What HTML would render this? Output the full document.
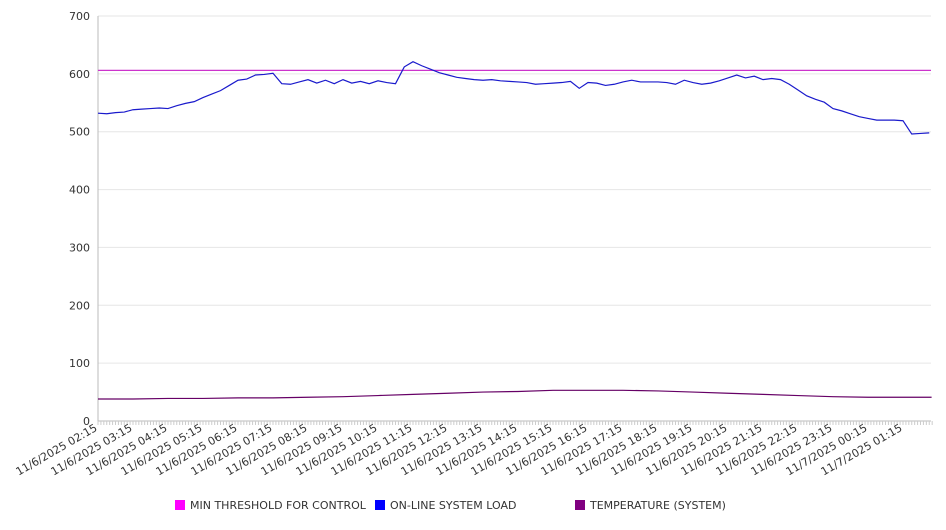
<!DOCTYPE html>
<html><head><meta charset="utf-8"><style>
body{margin:0;background:#fff;font-family:"DejaVu Sans","Liberation Sans",sans-serif}
svg text{font-family:"DejaVu Sans","Liberation Sans",sans-serif;fill:#333}
</style></head><body>
<svg id="chart" width="946" height="526" xmlns="http://www.w3.org/2000/svg"></svg>
<script>
const yTicks=[0,100,200,300,400,500,600,700];
const xLabels=["11/6/2025 02:15","11/6/2025 03:15","11/6/2025 04:15","11/6/2025 05:15","11/6/2025 06:15","11/6/2025 07:15","11/6/2025 08:15","11/6/2025 09:15","11/6/2025 10:15","11/6/2025 11:15","11/6/2025 12:15","11/6/2025 13:15","11/6/2025 14:15","11/6/2025 15:15","11/6/2025 16:15","11/6/2025 17:15","11/6/2025 18:15","11/6/2025 19:15","11/6/2025 20:15","11/6/2025 21:15","11/6/2025 22:15","11/6/2025 23:15","11/7/2025 00:15","11/7/2025 01:15"];
const threshold=606;
// load sampled every 15 minutes from 02:15
const load=[532,531,533,534,538,539,540,541,540,545,549,552,559,565,571,580,589,591,598,599,601,583,582,586,590,584,589,583,590,584,587,583,588,585,583,612,621,614,608,602,598,594,592,590,589,590,588,587,586,585,582,583,584,585,587,575,585,584,580,582,586,589,586,586,586,585,582,589,585,582,584,588,593,598,593,596,590,592,590,582,572,562,556,551,540,536,531,526,523,520,520,520,519,496,497,498];
// temperature hourly from 02:15
const temp=[38,38,39,39,40,40,41,42,44,46,48,50,51,53,53,53,52,50,48,46,44,42,41,41,41,40];
const ns="http://www.w3.org/2000/svg",svg=document.getElementById('chart');
const X0=98,X1=931,Y0=421,Y1=16,HOUR=35;
const y=v=>Y0-(v/700)*(Y0-Y1);
const xm=m=>X0+m*HOUR/60;
function el(t,a,p){const e=document.createElementNS(ns,t);for(const k in a)e.setAttribute(k,a[k]);(p||svg).appendChild(e);return e;}
const g=el('g',{});


yTicks.forEach(v=>{
 if(v>0){const l=el('line',{x1:X0,x2:X1,y1:y(v),y2:y(v),stroke:'#e6e6e6','stroke-width':1},g);
 
 }
 const t=el('text',{x:90,y:y(v)+4,'text-anchor':'end','font-size':11});
 t.textContent=v;
 
 
});
const ax=el('line',{x1:X0,x2:X0,y1:Y1,y2:Y0,stroke:'#bbb'});


const bx=el('line',{x1:X0,x2:X1,y1:Y0,y2:Y0,stroke:'#bbb'});


for(let m=0;m<=1430;m+=5){const tk=el('line',{x1:xm(m),x2:xm(m),y1:Y0,y2:Y0+4,stroke:'#ccc'});
 
 }
xLabels.forEach((s,i)=>{const px=xm(i*60);
 const t=el('text',{x:px,y:430,'text-anchor':'end','font-size':11,transform:`rotate(-30 ${px} 430)`});
 t.textContent=s;
 
 });
const th=el('line',{x1:X0,x2:X1,y1:y(threshold),y2:y(threshold),stroke:'#cc33cc','stroke-width':1.2});


const lp=el('polyline',{points:load.map((v,i)=>xm(i*15)+','+y(v)).join(' '),fill:'none',stroke:'#1a1acc','stroke-width':1.2});


const tp=el('polyline',{points:temp.map((v,i)=>Math.min(xm(i*60),X1)+','+y(v)).join(' '),fill:'none',stroke:'#660066','stroke-width':1.2});


const legend=[["MIN THRESHOLD FOR CONTROL","#ff00ff",175],["ON-LINE SYSTEM LOAD","#0000ff",375],["TEMPERATURE (SYSTEM)","#800080",575]];
legend.forEach(([n,c,lx])=>{
 const r=el('rect',{x:lx,y:500,width:10,height:10,fill:c});
 
 
 const t=el('text',{x:lx+15,y:509,'font-size':11});
 t.textContent=n;
 
 
});
</script>
</body></html>
